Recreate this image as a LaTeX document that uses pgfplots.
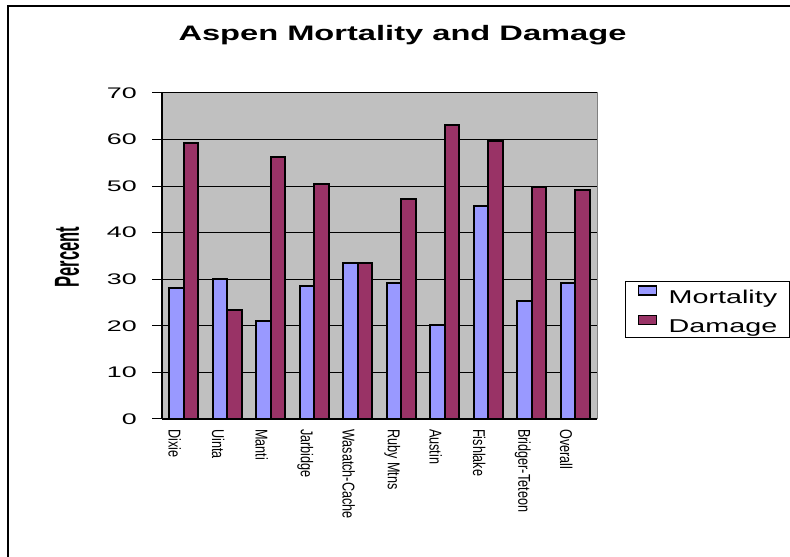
\documentclass[border=0pt]{standalone}
\usepackage{pgfplots}
\pgfplotsset{compat=1.18}
\usepackage{fontspec}
\setmainfont{Liberation Sans}
\definecolor{mort}{HTML}{9999FF}
\definecolor{dam}{HTML}{993366}
\definecolor{plotbg}{HTML}{C0C0C0}
\newcommand{\xl}[1]{\scalebox{1}[1.35]{#1}}

\begin{document}
\begin{tikzpicture}[x=1bp,y=1bp]
\path[use as bounding box] (0,0) rectangle (790,557);
\draw[line width=2.5bp] (8,0) -- (8,551) -- (790,551);
\node at (402.5,522) {\fontsize{21}{24}\selectfont\bfseries\scalebox{1.56}[1]{Aspen Mortality and Damage}};
\node[rotate=90] at (67,300) {\fontsize{16.6}{20}\selectfont\bfseries\scalebox{1}[2.1]{Percent}};
\begin{axis}[
    at={(162bp,138bp)}, anchor=south west,
    scale only axis, width=435bp, height=326bp,
    ybar=0pt, bar width=14.5bp,
    ymin=0, ymax=70, ytick={0,10,...,70},
    xmin=-0.5, xmax=9.5,
    xtick={0,...,9},
    xticklabels={\xl{Dixie},\xl{Uinta},\xl{Manti},\xl{Jarbidge},\xl{Wasatch-Cache},\xl{Ruby Mtns},\xl{Austin},\xl{Fishlake},\xl{Bridger-Teteon},\xl{Overall}},
    xticklabel style={rotate=-90, anchor=west, inner sep=0pt, yshift=-9bp, font=\fontsize{12.7}{14}\selectfont},
    x tick style={draw=none},
    axis x line*=bottom, axis y line*=left,
    x axis line style={line width=1.5bp, -},
    y axis line style={line width=1.5bp, -},
    axis background/.style={fill=plotbg, draw=gray, line width=1bp},
    tick align=outside, major tick length=10bp,
    y tick style={black, line width=1bp},
    /pgf/number format/assume math mode=true,
    yticklabel={\scalebox{1.75}[1]{\pgfmathprintnumber{\tick}}},
    yticklabel style={font=\fontsize{15.4}{17}\selectfont, inner sep=0pt, xshift=-15bp, anchor=east},
    ymajorgrids=true,
    grid style={black, line width=1bp},
    legend style={at={(rel axis cs:1.064,0.336)}, anchor=west, draw=black, line width=1.3bp,
        font=\fontsize{18.6}{20}\selectfont, inner xsep=12bp, inner ysep=4bp,
        nodes={inner sep=0pt}, row sep=10bp},
    /tikz/every odd column/.append style={column sep=12bp},
    legend cell align=left,
    legend image code/.code={\draw[#1, line width=1.2bp] (0bp,2.2bp) rectangle (18bp,11.2bp);},
]
\addplot[fill=mort, draw=black, line width=2bp] coordinates {
    (0,28.2) (1,30.0) (2,21.0) (3,28.5) (4,33.4) (5,29.2) (6,20.2) (7,45.8) (8,25.3) (9,29.2)
};
\addlegendentry{\scalebox{1.55}[1]{Mortality}}
\addplot[fill=dam, draw=black, line width=2bp] coordinates {
    (0,59.3) (1,23.3) (2,56.3) (3,50.4) (4,33.4) (5,47.2) (6,63.2) (7,59.6) (8,49.8) (9,49.1)
};
\addlegendentry{\scalebox{1.55}[1]{Damage}}
\end{axis}
\end{tikzpicture}
\end{document}
